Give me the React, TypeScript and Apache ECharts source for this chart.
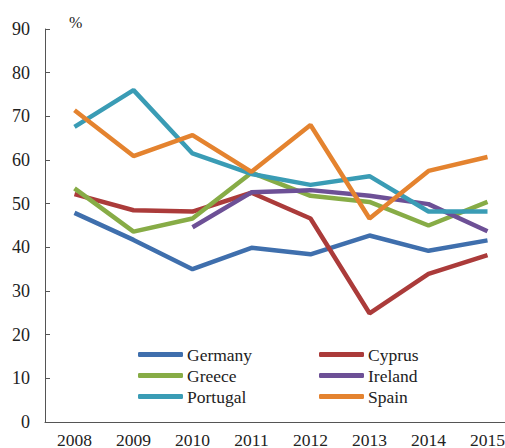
import React, { useEffect, useRef } from "react";
import * as echarts from "echarts";

const years = ["2008", "2009", "2010", "2011", "2012", "2013", "2014", "2015"];
const germany = [47.9, 41.7, 35.0, 39.9, 38.4, 42.7, 39.2, 41.6];
const cyprus = [52.2, 48.5, 48.2, 52.5, 46.6, 24.9, 33.9, 38.2];
const greece = [53.5, 43.6, 46.6, 57.1, 51.8, 50.4, 45.0, 50.4];
const ireland = [null, null, 44.6, 52.6, 53.1, 51.8, 49.9, 43.7];
const portugal = [67.6, 76.0, 61.5, 56.8, 54.3, 56.3, 48.2, 48.2];
const spain = [71.4, 60.9, 65.7, 57.3, 68.0, 46.6, 57.5, 60.7];

const seriesNames = ["Germany", "Cyprus", "Greece", "Ireland", "Portugal", "Spain"];
const seriesData = [germany, cyprus, greece, ireland, portugal, spain];
const colors = ["#3f6fad", "#ab3b3a", "#87ac46", "#6d5096", "#3a9cb5", "#e4832f"];

const FONT = "Liberation Serif";

export default function App() {
  const ref = useRef<HTMLDivElement>(null);
  useEffect(() => {
    document.body.style.margin = "0";
    const chart = echarts.init(ref.current!, null, { renderer: "svg" });
    const legendCommon = {
      orient: "vertical",
      icon: "roundRect",
      itemWidth: 45,
      itemHeight: 5,
      itemGap: 0,
      textStyle: { fontFamily: FONT, fontSize: 17.5, color: "#222", lineHeight: 21, padding: [0, 0, 0, -1] },
      padding: 0,
    };
    chart.setOption({
      animation: false,
      color: colors,
      textStyle: { fontFamily: FONT },
      title: {
        text: "%",
        left: 69,
        top: 14,
        padding: 0,
        textStyle: { fontFamily: FONT, fontSize: 16, fontWeight: "normal", color: "#222" },
      },
      grid: { left: 45, width: 472, top: 29, bottom: 26, containLabel: false, outerBoundsMode: "none" },
      legend: [
        { ...legendCommon, left: 138, top: 344, data: ["Germany", "Greece", "Portugal"] },
        { ...legendCommon, left: 319, top: 344, data: ["Cyprus", "Ireland", "Spain"] },
      ],
      xAxis: {
        type: "category",
        data: years,
        boundaryGap: true,
        axisLine: { lineStyle: { color: "#555", width: 1 } },
        axisTick: { inside: true, length: 5, lineStyle: { color: "#555" } },
        axisLabel: { fontFamily: FONT, fontSize: 17.5, color: "#222", margin: 9, lineHeight: 17 },
      },
      yAxis: {
        type: "value",
        min: 0,
        max: 90,
        interval: 10,
        splitLine: { show: false },
        axisLine: { show: true, lineStyle: { color: "#555", width: 1 } },
        axisTick: { show: true, inside: true, length: 5, lineStyle: { color: "#555" } },
        axisLabel: { fontFamily: FONT, fontSize: 18, color: "#222", margin: 15 },
      },
      series: seriesNames.map((name, i) => ({
        name,
        type: "line",
        data: seriesData[i],
        symbol: "none",
        lineStyle: { width: 4.5, color: colors[i] },
        itemStyle: { color: colors[i] },
      })),
    });
    return () => chart.dispose();
  }, []);
  return (
    <div
      ref={ref}
      style={{ position: "absolute", left: 0, top: 0, width: 505, height: 448 }}
    />
  );
}
